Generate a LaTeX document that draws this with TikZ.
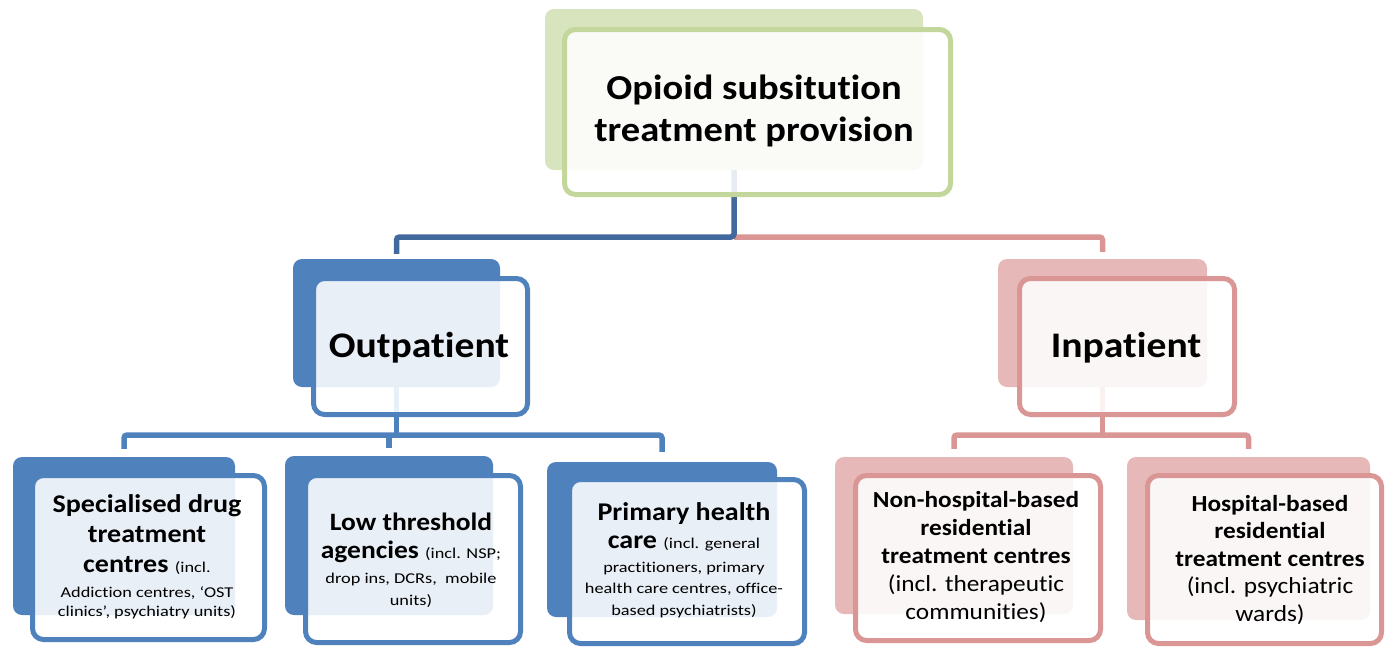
\documentclass[tikz,border=0pt]{standalone}
\usepackage{fontspec}
\setmainfont{Carlito}[Ligatures=NoCommon, FakeStretch=1.1]
\newfontfamily\smallf{Carlito}[Ligatures=NoCommon, FakeStretch=1.22]
\usetikzlibrary{calc}
\definecolor{grB}{HTML}{C3D69B}
\definecolor{grF}{HTML}{D7E4BD}
\definecolor{blB}{HTML}{4F81BD}
\definecolor{blD}{HTML}{41699E}
\definecolor{pkB}{HTML}{D99694}
\definecolor{pkF}{HTML}{E6B9B8}
\newcommand{\smt}[1]{{\smallf\mdseries\fontsize{15}{19}\selectfont #1}}
\begin{document}
\begin{tikzpicture}[x=1pt,y=-1pt,
  back/.style={fill=#1, rounded corners=9pt, inner sep=0pt},
  front/.style={draw=#1, line width=5pt, fill=white, fill opacity=0.88, rounded corners=11pt, inner sep=0pt},
  conn/.style={draw=#1, line width=5.5pt, rounded corners=3pt},
  lbl/.style={align=center, inner sep=0pt, text=black},
]
\useasboundingbox (0,0) rectangle (1385,648);
\coordinate (bus0) at (0,237);
\coordinate (bus1) at (0,435);

% back rectangles
\node[back=grF, minimum width=378pt, minimum height=161pt] (topb) at (734,89.5) {};
\node[back=blB, minimum width=207pt, minimum height=128pt] (outb) at (396.5,323) {};
\node[back=pkF, minimum width=209pt, minimum height=128pt] (inb) at (1102.5,323) {};
\node[back=blB, minimum width=222pt, minimum height=158pt] (c1b) at (124,536) {};
\node[back=blB, minimum width=208pt, minimum height=159pt] (c2b) at (389,535.5) {};
\node[back=blB, minimum width=230pt, minimum height=155pt] (c3b) at (662,539.5) {};
\node[back=pkF, minimum width=238pt, minimum height=157pt] (c4b) at (954,535.5) {};
\node[back=pkF, minimum width=243pt, minimum height=163pt] (c5b) at (1248.5,538.5) {};

% connector end points
\coordinate (outin) at ($(outb.north)+(0,-5)$);
\coordinate (inin) at ($(inb.north)+(0,-7)$);
\coordinate (c1in) at ($(c1b.north)+(0,-8)$);
\coordinate (c2in) at ($(c2b.north)+(0,-8)$);
\coordinate (c3in) at ($(c3b.north)+(0,-10)$);
\coordinate (c4in) at ($(c4b.north)+(0,-8)$);
\coordinate (c5in) at ($(c5b.north)+(0,-8)$);

% connectors
\draw[conn=pkB] (topb.south |- bus0) -| (inin);
\draw[conn=blD] (topb.south) -- (topb.south |- bus0) -| (outin);
\draw[conn=blB] (c1in) |- (c2b.north |- bus1) -| (c3in);
\draw[conn=blB] (outb.south) -- (outb.south |- bus1);
\draw[conn=blB] (c2b.north |- bus1) -- (c2in);
\draw[conn=pkB] (c4in) |- (inb.south |- bus1) -| (c5in);
\draw[conn=pkB] (inb.south) -- (inb.south |- bus1);

% front boxes
\node[front=grB, minimum width=386pt, minimum height=165pt] (topf) at (757.5,112) {};
\node[front=blB, minimum width=214pt, minimum height=136pt] (outf) at (420.5,346.5) {};
\node[front=pkB, minimum width=215pt, minimum height=136pt] (inf) at (1127,346.5) {};
\node[front=blB, minimum width=232pt, minimum height=164pt] (c1f) at (148.5,557.5) {};
\node[front=blB, minimum width=215pt, minimum height=167pt] (c2f) at (413,559) {};
\node[front=blB, minimum width=235pt, minimum height=164pt] (c3f) at (687,561.5) {};
\node[front=pkB, minimum width=245pt, minimum height=165pt] (c4f) at (978,558) {};
\node[front=pkB, minimum width=234pt, minimum height=168pt] (c5f) at (1264.5,559.5) {};

% labels
\node[lbl, font=\fontsize{35}{42}\selectfont\bfseries] (t0) at (754,111) {Opioid subsitution\\treatment provision};
\node[lbl, font=\fontsize{36}{42}\selectfont\bfseries] (t1) at (419,347.5) {Outpatient};
\node[lbl, font=\fontsize{36}{42}\selectfont\bfseries] (t2) at (1126,347.5) {Inpatient};
\node[lbl, font=\fontsize{25.5}{30}\selectfont\bfseries] (t3) at (147,557) {Specialised drug\\treatment\\centres \smt{(incl.}\\[-5pt]\smt{Addiction centres, ‘OST}\\[-11pt]\smt{clinics’, psychiatry units)}};
\node[lbl, font=\fontsize{25}{28}\selectfont\bfseries] (t4) at (411,560) {Low threshold\\agencies \smt{(incl. NSP;}\\[-3pt]\smt{drop ins, DCRs,\ \ mobile}\\[-6pt]\smt{units)}};
\node[lbl, font=\fontsize{25.5}{28}\selectfont\bfseries] (t5) at (684,560.5) {Primary health\\care \smt{(incl. general}\\[-4pt]\smt{practitioners, primary}\\[-7pt]\smt{health care centres, office-}\\[-6pt]\smt{based psychiatrists)}};
\node[lbl, font=\fontsize{23}{28}\selectfont\bfseries] (t6) at (976,557.5) {Non-hospital-based\\residential\\treatment centres\\{\mdseries (incl. therapeutic}\\{\mdseries communities)}};
\node[lbl, font=\fontsize{23}{27.5}\selectfont\bfseries] (t7) at (1270,560) {Hospital-based\\residential\\treatment centres\\{\mdseries (incl. psychiatric}\\{\mdseries wards)}};
\end{tikzpicture}
\end{document}
